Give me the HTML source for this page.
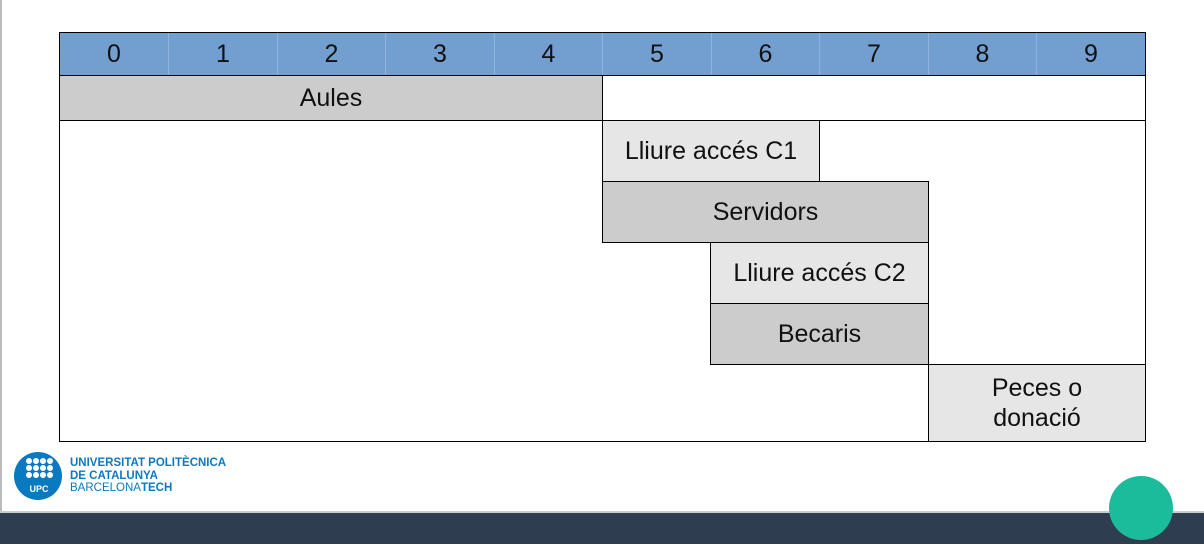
<!DOCTYPE html>
<html><head><meta charset="utf-8"><style>
body{margin:0;width:1204px;height:544px;position:relative;overflow:hidden;background:#fff;font-family:"Liberation Sans",sans-serif}
.a{position:absolute;box-sizing:border-box}
.h{top:32px;height:44px;background:#729fcf;display:flex;align-items:center;justify-content:center;font-size:25px;color:#111;border-left:1px solid #8fb3dc}
.c{display:flex;align-items:center;justify-content:center;text-align:center;font-size:25px;color:#111;border:1px solid #000;line-height:30px}
</style></head><body>
<div class="a" style="left:0;top:0;width:2px;height:512px;background:#bbb"></div>
<div class="a h" style="left:60px;width:108px;border-left:none">0</div>
<div class="a h" style="left:168px;width:109px">1</div>
<div class="a h" style="left:277px;width:108px">2</div>
<div class="a h" style="left:385px;width:109px">3</div>
<div class="a h" style="left:494px;width:108px">4</div>
<div class="a h" style="left:602px;width:109px">5</div>
<div class="a h" style="left:711px;width:108px">6</div>
<div class="a h" style="left:819px;width:109px">7</div>
<div class="a h" style="left:928px;width:108px">8</div>
<div class="a h" style="left:1036px;width:109px">9</div>
<div class="a" style="left:59px;top:75px;width:1087px;height:1px;background:#000"></div>
<div class="a c" style="left:59px;top:75px;width:544px;height:46px;background:#cccccc">Aules</div>
<div class="a" style="left:59px;top:120px;width:1087px;height:1px;background:#000"></div>
<div class="a c" style="left:602px;top:120px;width:218px;height:62px;background:#e6e6e6">Lliure accés C1</div>
<div class="a c" style="left:602px;top:181px;width:327px;height:62px;background:#cccccc">Servidors</div>
<div class="a c" style="left:710px;top:242px;width:219px;height:62px;background:#e6e6e6">Lliure accés C2</div>
<div class="a c" style="left:710px;top:303px;width:219px;height:62px;background:#cccccc">Becaris</div>
<div class="a c" style="left:928px;top:364px;width:218px;height:78px;background:#e6e6e6">Peces o<br>donació</div>
<div class="a" style="left:928px;top:364px;width:218px;height:1px;background:#000"></div>
<div class="a" style="left:59px;top:32px;width:1087px;height:410px;border:1px solid #000"></div>
<div class="a" style="left:14px;top:452px;width:48px;height:48px;border-radius:50%;background:#0a7ac0"></div>
<div class="a" style="left:25px;top:457px;width:28px;font-size:0">
<svg width="28" height="28"><g fill="#fff"><circle cx="4" cy="4" r="3"/><circle cx="11" cy="4" r="3"/><circle cx="18" cy="4" r="3"/><circle cx="25" cy="4" r="3"/><circle cx="4" cy="11" r="3"/><circle cx="11" cy="11" r="3"/><circle cx="18" cy="11" r="3"/><circle cx="25" cy="11" r="3"/><circle cx="4" cy="18" r="3"/><circle cx="11" cy="18" r="3"/><circle cx="18" cy="18" r="3"/><circle cx="25" cy="18" r="3"/></g></svg></div>
<div class="a" style="left:25px;top:484px;width:28px;color:#fff;font-size:9px;font-weight:bold;text-align:center">UPC</div>
<div class="a" style="left:70px;top:457px;color:#0a7ac0;font-size:11.5px;line-height:12.5px;white-space:nowrap"><b>UNIVERSITAT POLITÈCNICA<br>DE CATALUNYA</b><br>BARCELONA<b>TECH</b></div>
<div class="a" style="left:0;top:511px;width:1204px;height:2px;background:#ccc"></div>
<div class="a" style="left:0;top:513px;width:1204px;height:31px;background:#2e3d4f"></div>
<div class="a" style="left:1109px;top:476px;width:64px;height:64px;border-radius:50%;background:#1abc9c"></div>
</body></html>
